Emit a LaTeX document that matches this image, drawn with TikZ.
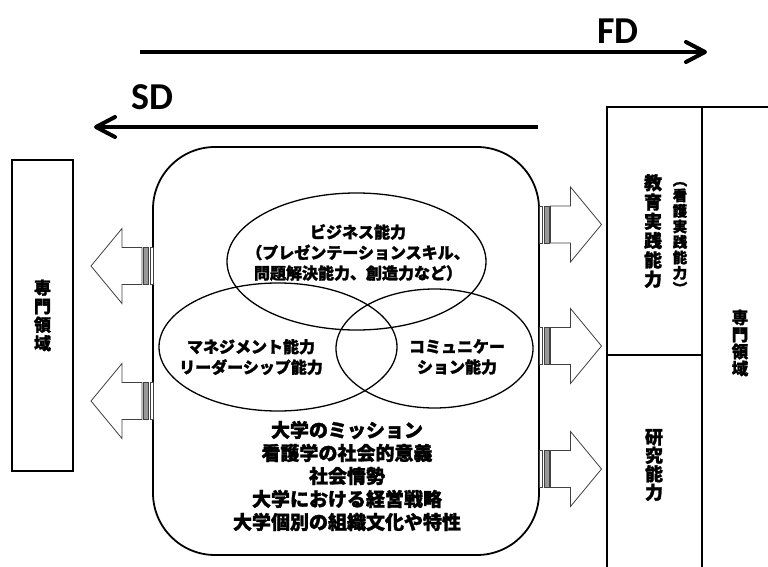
\documentclass[tikz,border=0pt]{standalone}
\usepackage{fontspec}
\newfontfamily\jp{Noto Sans CJK JP}[BoldFeatures={FakeBold=1.6}]
\newfontfamily\lat{Carlito}
\usetikzlibrary{shapes.geometric,calc}
\tikzset{
  frame/.style={draw, line width=1.8pt, inner sep=0pt},
  ell/.style={ellipse, draw, line width=1.3pt, inner sep=0pt},
  shaft/.style={line width=4pt},
  barb/.style={line width=4pt, line cap=round, line join=round},
  arrowline/.style={draw=black!75, line width=0.8pt, fill=white},
  jt/.style={font={\jp\bfseries\fontsize{16}{20.5}\selectfont}, align=center, inner sep=0pt},
  jbig/.style={font={\jp\bfseries\fontsize{19}{23}\selectfont}, align=center, inner sep=0pt},
  lab/.style={font={\lat\bfseries\fontsize{38}{40}\selectfont}, inner sep=0pt},
  stripearrow/.pic={
    \draw[arrowline] (1,-18.5) rectangle (3.5,18.5);
    \draw[arrowline, fill=black!40] (5.5,-18.5) rectangle (10.5,18.5);
    \draw[arrowline] (12,-18.5) -- (32,-18.5) -- (32,-37.5) -- (63,0) -- (32,37.5) -- (32,18.5) -- (12,18.5) -- cycle;
  }
}
\begin{document}
\begin{tikzpicture}[x=1pt,y=-1pt]
\useasboundingbox (0,0) rectangle (768,567);

% FD and SD arrows
\coordinate (fdS) at (140,52);
\coordinate (fdE) at (705,52);
\draw[shaft] (fdS) -- (fdE);
\draw[barb] ($(fdE)+(-19,-10)$) -- (fdE) -- ($(fdE)+(-19,10)$);
\node[lab] (fd) at (618,31) {FD};

\coordinate (sdS) at (538,127);
\coordinate (sdE) at (96,127);
\draw[shaft] (sdS) -- (sdE);
\draw[barb] ($(sdE)+(19,-10)$) -- (sdE) -- ($(sdE)+(19,10)$);
\node[lab] (sd) at (152,97) {SD};

% left box
\node[frame, minimum width=61pt, minimum height=311pt] (leftbox) at (42.5,315.5) {};
\node[font={\jp\bfseries\fontsize{17}{18.5}\selectfont}, align=center, inner sep=0pt] at (leftbox.center) {専\\門\\領\\域};

% right panels
\begin{scope}
\clip (0,0) rectangle (768,567);
\node[frame, minimum width=95pt, minimum height=248pt] (edu) at (654.5,231) {};
\node[frame, minimum width=95pt, minimum height=250pt] (res) at (654.5,480) {};
\node[frame, minimum width=95pt, minimum height=500pt] (spec) at (749.5,357) {};
\end{scope}
\node[font={\jp\bfseries\fontsize{18}{19.3}\selectfont}, align=center, inner sep=0pt] (edut) at (653,231) {教\\育\\実\\践\\能\\力};
\node[font={\jp\bfseries\fontsize{14.5}{15.5}\selectfont}, align=center, inner sep=0pt] (kango) at (680,238) {︵\\看\\護\\実\\践\\能\\力\\︶};
\node[font={\jp\bfseries\fontsize{18}{18.5}\selectfont}, align=center, inner sep=0pt] (rest) at (654,465) {研\\究\\能\\力};
\node[font={\jp\bfseries\fontsize{16.5}{17}\selectfont}, align=center, inner sep=0pt] (spect) at (740,343) {専\\門\\領\\域};

% main rounded box
\node[frame, rounded corners=62pt, minimum width=386pt, minimum height=408pt] (main) at (346,351) {};

% block arrows
\pic at (538.5,224.5) {stripearrow};
\pic at (538.5,346) {stripearrow};
\pic at (538.5,469) {stripearrow};
\pic[xscale=-1] at (154,266) {stripearrow};
\pic[xscale=-1] at (154,401) {stripearrow};

% ellipses
\node[ell, minimum width=259pt, minimum height=137pt] (biz) at (356.5,261.5) {};
\node[ell, minimum width=238pt, minimum height=128pt] (mgmt) at (278,347) {};
\node[ell, minimum width=197pt, minimum height=119pt] (comm) at (434.5,348.5) {};

\node[jt] (bizt) at (358,252.5) {ビジネス能力\\（プレゼンテーションスキル、\\問題解決能力、創造力など）};
\node[jt] (mgmtt) at (251,357) {マネジメント能力\\リーダーシップ能力};
\node[jt] (commt) at (457,357) {コミュニケー\\ション能力};

\node[jbig] (bottom) at (347,476) {大学のミッション\\看護学の社会的意義\\社会情勢\\大学における経営戦略\\大学個別の組織文化や特性};
\end{tikzpicture}
\end{document}
